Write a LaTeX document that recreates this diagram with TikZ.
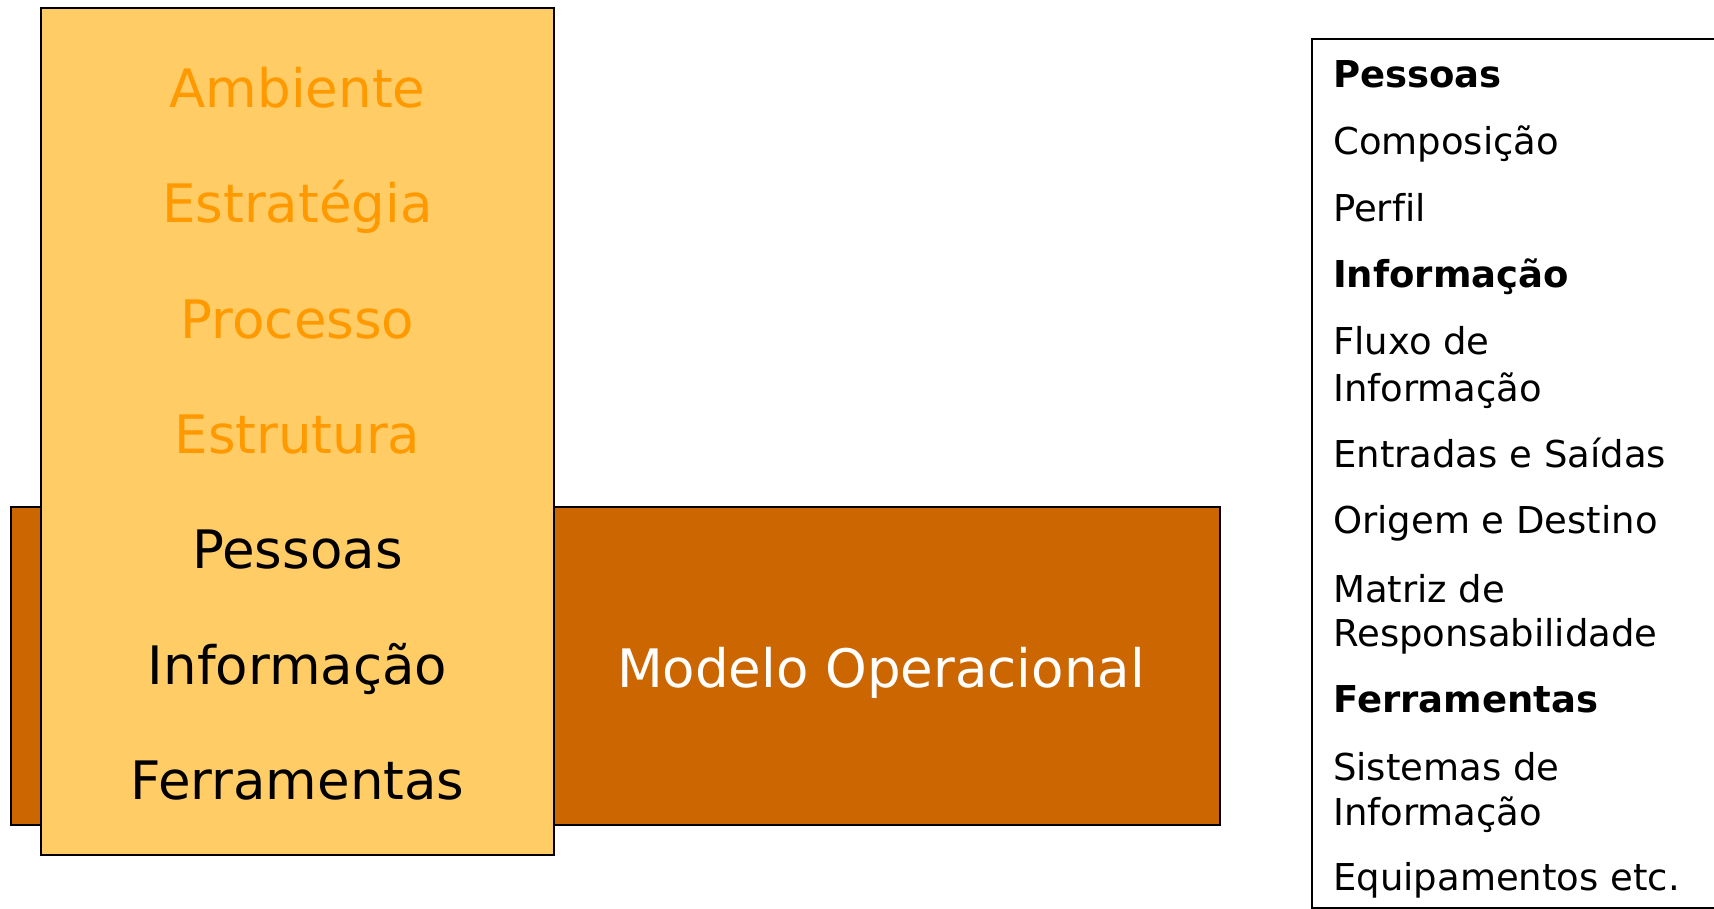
\documentclass[tikz,border=0pt]{standalone}
\usepackage{fontspec}
\setmainfont{DejaVu Sans}[Ligatures=NoCommon]
\definecolor{boxyellow}{HTML}{FFCC66}
\definecolor{boxorange}{HTML}{CC6600}
\definecolor{textorange}{HTML}{FF9900}
\begin{document}
\begin{tikzpicture}[x=1pt, y=-1pt,
  big/.style={anchor=base, inner sep=0pt, font=\fontsize{53}{60}\selectfont},
  small/.style={anchor=base west, inner sep=0pt, font=\fontsize{37}{44}\selectfont},
  smallbf/.style={small, font=\fontsize{37}{44}\selectfont\bfseries}]
\useasboundingbox (0,0) rectangle (1714,909);
% boxes
\filldraw[fill=boxorange, draw=black, line width=1.5pt] (11,507) rectangle (1220,825);
\filldraw[fill=boxyellow, draw=black, line width=1.5pt] (41,8) rectangle (554,855);
\draw[black, line width=1.5pt] (1312,39) rectangle (1740,908);

\node[big, textorange] (amb) at (297.5,108) {Ambiente};
\node[big, textorange] (est) at (297.5,223) {Estratégia};
\node[big, textorange] (proc) at (297.5,339) {Processo};
\node[big, textorange] (estr) at (297.5,453) {Estrutura};
\node[big] (pes) at (297.5,568) {Pessoas};
\node[big] (inf) at (297.5,684) {Informação};
\node[big] (ferr) at (297.5,799) {Ferramentas};

\node[big, white] (modelo) at (881,687) {Modelo Operacional};

\node[smallbf] (lpes) at (1333,88) {Pessoas};
\node[small] (comp) at (1333,155) {Composição};
\node[small] (perf) at (1333,222) {Perfil};
\node[smallbf] (linf) at (1333,288) {Informação};
\node[small] (flux) at (1333,355) {Fluxo de};
\node[small] (flux2) at (1333,401) {Informação};
\node[small] (entr) at (1333,467) {Entradas e Saídas};
\node[small] (orig) at (1333,533) {Origem e Destino};
\node[small] (matr) at (1333,602) {Matriz de};
\node[small] (matr2) at (1333,646) {Responsabilidade};
\node[smallbf] (lferr) at (1333,712) {Ferramentas};
\node[small] (sist) at (1333,780) {Sistemas de};
\node[small] (sist2) at (1333,825) {Informação};
\node[small] (equip) at (1333,890) {Equipamentos etc.};

\end{tikzpicture}
\end{document}
